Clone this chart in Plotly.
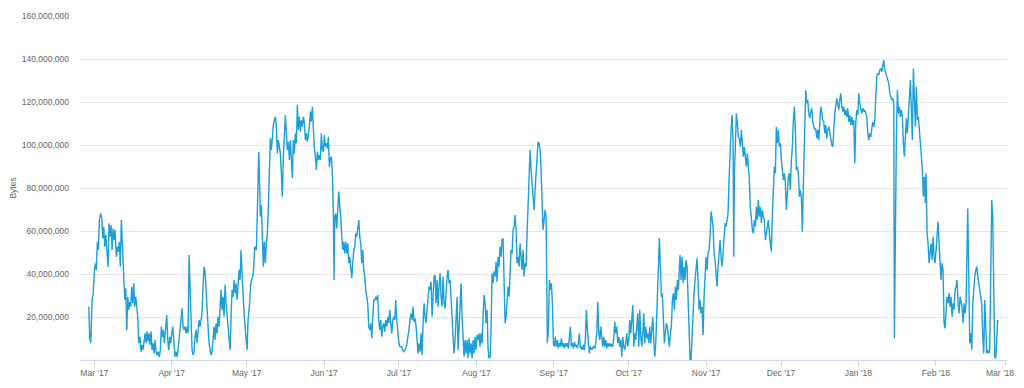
import pandas as pd
import plotly.graph_objects as go

START = "2017-03-01"

# days since START (fractional) and mempool size in millions of bytes
day_offset = [
    -2.24, -1.84, -1.44, -0.92, -0.52, -0.12, 0.16, 0.56, 0.80, 1.20,
    1.60, 2.00, 2.56, 2.96, 3.36, 3.76, 4.17, 4.57, 5.09, 5.49,
    5.89, 6.29, 6.69, 7.09, 7.49, 7.89, 8.29, 8.81, 9.21, 9.61,
    10.01, 10.41, 10.81, 11.21, 11.77, 12.18, 12.58, 12.98, 13.38, 13.78,
    14.18, 14.58, 14.98, 15.38, 15.78, 16.18, 16.58, 16.98, 17.38, 17.78,
    18.30, 18.70, 19.10, 19.50, 19.90, 20.30, 20.70, 21.10, 21.51, 21.91,
    22.31, 22.71, 23.11, 23.51, 23.91, 24.31, 24.71, 25.11, 25.51, 26.03,
    26.43, 26.83, 27.23, 27.63, 28.03, 28.60, 29.00, 29.40, 29.80, 30.20,
    30.60, 31.00, 31.40, 31.80, 32.32, 32.72, 33.12, 33.52, 33.92, 34.32,
    34.72, 35.12, 35.52, 35.92, 36.32, 36.73, 37.13, 37.53, 37.93, 38.33,
    38.73, 39.13, 39.53, 39.93, 40.33, 40.73, 41.13, 41.53, 41.93, 42.33,
    42.73, 43.13, 43.53, 43.93, 44.33, 44.74, 45.14, 45.54, 45.94, 46.34,
    46.74, 47.14, 47.54, 47.94, 48.34, 48.74, 49.14, 49.54, 49.94, 50.34,
    50.74, 51.14, 51.54, 51.94, 52.34, 52.75, 53.15, 53.55, 53.95, 54.35,
    54.75, 55.15, 55.55, 55.95, 56.35, 56.75, 57.15, 57.55, 57.95, 58.35,
    58.75, 59.15, 59.55, 59.96, 60.36, 60.76, 61.16, 61.56, 62.08, 62.64,
    63.16, 63.68, 64.24, 64.88, 65.10, 65.44, 65.84, 66.24, 66.48, 66.88,
    67.28, 67.68, 68.08, 68.48, 68.88, 69.29, 69.69, 70.09, 70.49, 70.89,
    71.29, 71.69, 72.09, 72.49, 72.89, 73.29, 73.69, 74.09, 74.49, 74.89,
    75.29, 75.69, 76.10, 76.50, 76.90, 77.30, 77.70, 78.10, 78.50, 78.90,
    79.30, 79.70, 80.10, 80.50, 80.90, 81.30, 81.70, 82.10, 82.50, 82.90,
    83.30, 83.70, 84.11, 84.51, 84.91, 85.31, 85.71, 86.11, 86.51, 86.91,
    87.31, 87.71, 88.11, 88.51, 88.91, 89.31, 89.71, 90.11, 90.51, 90.91,
    91.31, 91.71, 92.12, 92.52, 92.92, 93.32, 93.72, 94.12, 94.52, 94.92,
    95.32, 95.72, 96.00, 96.28, 96.68, 97.08, 97.48, 97.88, 98.28, 98.68,
    99.08, 99.48, 99.88, 100.28, 100.68, 101.08, 101.49, 101.89, 102.29, 102.69,
    103.09, 103.49, 103.89, 104.29, 104.69, 105.09, 105.49, 105.89, 106.29, 106.69,
    107.09, 107.49, 107.89, 108.29, 108.69, 109.09, 109.49, 109.89, 110.29, 110.69,
    111.10, 111.50, 111.90, 112.30, 112.70, 113.10, 113.50, 113.90, 114.30, 114.70,
    115.10, 115.50, 115.90, 116.30, 116.70, 117.10, 117.50, 117.90, 118.30, 118.71,
    119.11, 119.51, 119.91, 120.31, 120.71, 121.11, 121.51, 121.91, 122.31, 123.11,
    123.75, 124.43, 125.11, 125.64, 126.04, 126.43, 126.84, 127.24, 127.64, 128.04,
    128.44, 128.84, 129.24, 129.64, 130.04, 130.44, 130.84, 131.24, 131.64, 132.05,
    132.45, 132.85, 133.25, 133.65, 134.05, 134.45, 134.85, 135.25, 135.65, 136.05,
    136.45, 136.85, 137.25, 137.65, 138.05, 138.45, 138.85, 139.25, 139.65, 140.06,
    140.46, 140.86, 141.26, 141.66, 142.06, 142.46, 142.86, 143.26, 143.66, 144.06,
    144.46, 144.86, 145.26, 145.66, 146.06, 146.46, 146.86, 147.26, 147.66, 148.07,
    148.47, 148.87, 149.27, 149.67, 150.07, 150.47, 150.87, 151.27, 151.67, 152.07,
    152.47, 152.87, 153.27, 153.67, 154.07, 154.47, 154.87, 155.27, 155.67, 156.08,
    156.48, 156.88, 157.28, 157.68, 158.08, 158.48, 158.88, 159.28, 159.68, 160.08,
    160.48, 160.88, 161.28, 161.68, 162.08, 162.48, 162.88, 163.28, 163.68, 164.09,
    164.49, 164.89, 165.29, 165.69, 166.09, 166.49, 166.89, 167.29, 167.69, 168.09,
    168.49, 168.89, 169.29, 169.69, 170.09, 170.49, 170.89, 171.29, 171.69, 172.10,
    172.50, 172.90, 173.30, 173.70, 174.10, 174.50, 174.90, 175.30, 175.70, 176.10,
    176.50, 176.90, 177.30, 177.70, 178.10, 178.50, 178.90, 179.30, 179.70, 180.11,
    180.51, 180.91, 181.19, 181.43, 181.83, 182.23, 182.63, 183.03, 183.43, 183.83,
    184.23, 184.63, 185.03, 185.43, 185.83, 186.23, 186.63, 187.03, 187.43, 187.83,
    188.23, 188.63, 189.04, 189.44, 189.84, 190.24, 190.64, 191.04, 191.44, 191.84,
    192.24, 192.64, 193.04, 193.44, 193.84, 194.24, 194.64, 195.04, 195.44, 195.84,
    196.24, 196.64, 197.04, 197.44, 197.84, 198.24, 198.52, 199.20, 199.84, 200.53,
    201.21, 201.61, 202.01, 202.41, 202.81, 203.21, 203.61, 204.01, 204.41, 204.81,
    205.21, 205.61, 206.01, 206.41, 206.81, 207.21, 207.62, 208.02, 208.42, 208.82,
    209.22, 209.62, 210.02, 210.42, 210.82, 211.22, 211.62, 212.02, 212.42, 212.82,
    213.22, 213.62, 214.02, 214.42, 214.82, 215.22, 215.63, 216.03, 216.43, 216.83,
    217.23, 217.63, 218.03, 218.43, 218.83, 219.23, 219.63, 220.03, 220.43, 220.83,
    221.23, 221.63, 222.03, 222.43, 222.83, 223.24, 223.64, 224.04, 224.44, 224.84,
    225.24, 225.64, 226.04, 226.28, 226.68, 227.08, 227.48, 227.88, 228.28, 228.68,
    229.08, 229.48, 229.88, 230.28, 230.68, 231.08, 231.48, 231.88, 232.28, 232.68,
    233.09, 233.49, 233.89, 234.29, 234.57, 234.97, 235.37, 235.77, 236.17, 236.57,
    236.97, 237.37, 237.77, 238.17, 238.57, 238.97, 239.37, 239.77, 240.17, 240.57,
    240.97, 241.37, 241.77, 242.17, 242.58, 242.98, 243.38, 243.78, 244.18, 244.58,
    244.98, 245.38, 245.78, 246.18, 246.58, 246.98, 247.38, 247.78, 248.18, 248.58,
    248.98, 249.38, 249.78, 250.18, 250.59, 250.99, 251.39, 251.79, 252.19, 252.59,
    252.99, 253.39, 253.79, 254.19, 254.59, 254.99, 255.39, 255.79, 256.07, 256.31,
    256.71, 257.11, 257.51, 257.91, 258.31, 258.72, 259.12, 259.52, 259.92, 260.32,
    260.72, 261.12, 261.52, 261.92, 262.32, 262.72, 263.12, 263.52, 263.92, 264.32,
    264.72, 265.12, 265.52, 265.92, 266.32, 266.73, 267.13, 267.53, 267.93, 268.33,
    268.73, 269.13, 269.53, 269.93, 270.33, 270.73, 271.13, 271.53, 271.93, 272.33,
    272.73, 273.13, 273.53, 273.93, 274.33, 274.73, 275.14, 275.54, 275.94, 276.34,
    276.74, 277.14, 277.54, 277.94, 278.34, 278.74, 279.14, 279.54, 279.94, 280.34,
    280.74, 281.14, 281.54, 281.94, 282.34, 282.62, 283.15, 283.55, 283.95, 284.35,
    284.91, 285.31, 285.71, 286.11, 286.51, 286.91, 287.31, 287.71, 288.11, 288.52,
    288.92, 289.32, 289.72, 290.12, 290.52, 290.92, 291.32, 291.72, 292.12, 292.52,
    292.92, 293.32, 293.72, 294.12, 294.52, 294.92, 295.33, 295.73, 296.13, 296.53,
    296.93, 297.33, 297.73, 298.13, 298.53, 298.93, 299.33, 299.73, 300.13, 300.53,
    300.93, 301.33, 301.73, 302.14, 302.54, 302.94, 303.34, 303.74, 304.14, 304.54,
    304.94, 305.34, 305.74, 306.14, 306.54, 306.94, 307.34, 307.74, 308.14, 308.54,
    308.95, 309.35, 309.75, 310.15, 310.55, 310.95, 311.35, 311.75, 312.15, 312.55,
    312.95, 313.35, 313.75, 314.15, 314.55, 314.95, 315.35, 315.76, 316.16, 316.56,
    316.96, 317.36, 317.76, 318.16, 318.56, 318.96, 319.36, 319.76, 320.16, 320.40,
    320.80, 321.20, 321.60, 322.00, 322.40, 322.80, 323.20, 323.60, 324.00, 324.40,
    324.80, 325.20, 325.60, 326.01, 326.41, 326.81, 327.21, 327.61, 328.01, 328.41,
    328.81, 329.21, 329.61, 330.01, 330.41, 330.81, 331.21, 331.61, 332.01, 332.41,
    332.81, 333.09, 333.49, 333.89, 334.29, 334.69, 335.09, 335.49, 335.89, 336.29,
    336.69, 337.09, 337.49, 337.89, 338.29, 338.69, 339.09, 339.49, 339.89, 340.29,
    340.70, 341.10, 341.50, 341.90, 342.30, 342.70, 343.10, 343.50, 343.90, 344.30,
    344.70, 345.10, 345.50, 345.90, 346.30, 346.70, 347.10, 347.50, 347.90, 348.30,
    348.71, 349.11, 349.79, 350.19, 350.59, 350.99, 351.39, 351.79, 352.19, 352.59,
    352.99, 353.39, 353.79, 354.19, 354.59, 354.99, 355.39, 355.79, 356.19, 356.59,
    356.99, 357.39, 357.79, 358.19, 358.59, 358.99, 359.39, 359.79, 360.19, 360.59,
    360.99, 361.39, 361.79,
]

mempool_mb = [
    24.8, 10.1, 8.0, 27.9, 30.2, 37.2, 43.4, 45.0, 41.9, 55.0,
    51.2, 65.1, 68.2, 65.9, 56.6, 62.0, 52.7, 58.1, 51.2, 43.4,
    63.6, 57.3, 62.8, 51.2, 61.2, 55.8, 60.5, 48.0, 52.7, 50.4,
    55.0, 43.4, 65.1, 51.2, 32.6, 27.9, 33.3, 14.0, 29.4, 23.3,
    27.1, 24.8, 34.1, 26.4, 35.7, 24.8, 29.4, 23.3, 20.1, 7.8,
    10.8, 3.9, 7.0, 4.7, 10.8, 12.4, 7.8, 13.2, 8.5, 12.4,
    7.0, 13.2, 4.7, 7.8, 3.1, 9.3, 3.9, 2.3, 3.9, 1.5,
    4.7, 15.5, 10.8, 14.0, 7.8, 15.5, 20.9, 9.3, 4.7, 10.8,
    7.8, 12.4, 15.5, 9.3, 1.5, 3.9, 1.5, 4.7, 9.3, 14.0,
    18.6, 24.0, 15.5, 14.0, 15.5, 12.4, 15.5, 12.4, 48.8, 31.0,
    21.7, 4.7, 2.3, 3.9, 10.8, 14.0, 7.8, 15.5, 18.6, 15.5,
    20.1, 21.7, 34.1, 43.4, 41.1, 34.1, 23.3, 15.5, 7.8, 4.7,
    2.3, 3.9, 10.8, 15.5, 9.3, 17.1, 12.4, 20.1, 15.5, 23.3,
    32.6, 23.3, 29.4, 20.1, 34.9, 26.4, 20.1, 15.5, 10.8, 4.7,
    20.1, 32.6, 29.4, 37.2, 31.0, 35.7, 27.9, 35.7, 41.9, 37.2,
    51.2, 40.3, 27.9, 21.7, 15.5, 9.3, 4.7, 18.6, 24.8, 35.7,
    38.8, 40.3, 52.7, 51.2, 60.5, 79.1, 96.9, 79.1, 66.7, 72.1,
    60.5, 43.4, 55.0, 45.0, 54.3, 58.9, 71.3, 85.2, 103.1, 97.7,
    105.4, 109.3, 111.6, 113.1, 108.5, 96.1, 102.3, 98.4, 96.1, 86.8,
    75.9, 94.5, 103.8, 113.9, 105.4, 97.7, 101.5, 93.0, 102.3, 91.5,
    84.5, 102.3, 96.1, 105.4, 100.8, 118.6, 107.0, 113.1, 106.2, 111.6,
    108.5, 113.1, 110.1, 102.3, 105.4, 101.5, 105.4, 108.5, 115.5, 110.8,
    117.8, 105.4, 98.4, 94.5, 88.4, 96.9, 93.0, 95.3, 93.0, 105.4,
    97.7, 96.9, 104.6, 99.2, 100.8, 98.4, 103.8, 89.9, 93.8, 94.5,
    86.8, 68.2, 37.2, 66.7, 68.2, 61.2, 71.3, 78.3, 71.3, 66.7,
    57.3, 51.2, 55.0, 49.6, 55.0, 49.6, 54.3, 45.0, 48.0, 44.2,
    38.0, 45.0, 51.2, 52.7, 58.9, 57.3, 60.5, 65.1, 57.3, 54.3,
    45.0, 51.2, 41.9, 38.8, 32.6, 29.4, 26.4, 15.5, 14.0, 17.1,
    10.1, 20.1, 27.9, 27.9, 29.4, 27.9, 30.2, 18.6, 14.0, 18.6,
    10.8, 15.5, 17.1, 13.2, 18.6, 15.5, 20.1, 17.1, 23.3, 17.1,
    12.4, 18.6, 20.1, 18.6, 27.9, 18.6, 10.8, 8.5, 6.2, 6.2,
    3.9, 4.7, 7.0, 10.8, 14.7, 18.6, 21.7, 18.6, 24.8, 17.8,
    19.4, 15.5, 9.3, 3.1, 7.8, 3.9, 12.4, 2.3, 17.1, 26.4,
    20.1, 17.1, 23.3, 27.9, 34.1, 32.6, 36.4, 20.1, 32.6, 38.8,
    39.5, 26.4, 37.2, 24.8, 34.1, 40.3, 29.4, 24.8, 38.8, 26.4,
    24.0, 32.6, 38.8, 41.9, 35.7, 37.2, 31.0, 20.1, 10.8, 3.1,
    9.3, 20.1, 29.4, 4.7, 14.0, 29.4, 35.7, 20.1, 7.8, 1.5,
    9.3, 3.1, 9.3, 0.8, 10.1, 3.1, 7.8, 0.8, 9.3, 3.1,
    10.8, 4.7, 11.6, 9.3, 12.4, 6.2, 12.4, 7.8, 20.1, 30.2,
    26.4, 17.1, 23.3, 4.7, 0.8, 1.5, 14.0, 40.3, 35.7, 41.1,
    38.8, 45.7, 36.4, 48.0, 43.4, 52.7, 48.0, 55.8, 56.6, 37.2,
    17.1, 20.1, 27.9, 34.1, 29.4, 41.9, 51.2, 49.6, 60.5, 62.0,
    67.4, 60.5, 45.0, 48.0, 43.4, 54.3, 48.0, 41.9, 51.2, 38.8,
    45.0, 43.4, 58.9, 75.9, 88.4, 97.7, 88.4, 82.2, 75.9, 69.8,
    79.1, 88.4, 97.7, 101.5, 100.8, 97.7, 88.4, 69.8, 60.5, 65.1,
    69.8, 66.7, 37.2, 7.8, 14.0, 37.2, 32.6, 35.7, 26.4, 7.8,
    6.2, 10.8, 6.2, 9.3, 5.4, 7.8, 6.2, 10.1, 6.2, 7.8,
    5.4, 7.8, 6.2, 7.8, 5.4, 9.3, 15.5, 6.2, 7.8, 5.4,
    8.5, 6.2, 7.0, 5.4, 7.8, 12.4, 5.4, 6.2, 4.7, 7.0,
    4.7, 9.3, 23.3, 14.0, 7.8, 3.1, 6.2, 4.7, 6.2, 5.4,
    12.4, 27.1, 12.4, 9.3, 15.5, 10.8, 6.2, 10.8, 6.2, 9.3,
    5.4, 7.8, 6.2, 7.8, 6.2, 7.0, 6.2, 10.8, 17.8, 12.4,
    15.5, 7.8, 10.8, 6.2, 9.3, 1.5, 10.8, 6.2, 4.7, 7.8,
    12.4, 6.2, 9.3, 18.6, 12.4, 18.6, 25.6, 6.2, 12.4, 9.3,
    15.5, 21.7, 6.2, 23.3, 10.8, 6.2, 12.4, 21.7, 7.8, 15.5,
    10.1, 12.4, 7.8, 15.5, 7.8, 14.0, 20.1, 9.3, 1.5, 7.8,
    21.7, 37.2, 48.0, 56.6, 43.4, 29.4, 31.0, 21.7, 7.8, 12.4,
    17.1, 15.5, 9.3, 6.2, 12.4, 15.5, 27.9, 31.0, 23.3, 34.1,
    27.9, 37.2, 32.6, 43.4, 48.8, 37.2, 48.0, 35.7, 43.4, 37.2,
    46.5, 43.4, 29.4, 12.4, 0.3, 0.3, 12.4, 21.7, 31.0, 37.2,
    41.9, 47.3, 37.2, 23.3, 27.9, 21.7, 24.8, 11.6, 29.4, 43.4,
    48.0, 41.9, 49.6, 51.2, 57.3, 69.0, 65.1, 62.0, 49.6, 46.5,
    40.3, 34.1, 43.4, 48.0, 55.8, 48.0, 43.4, 49.6, 55.8, 63.6,
    62.0, 65.1, 68.2, 83.7, 100.8, 107.0, 113.9, 102.3, 48.0, 86.8,
    99.2, 114.7, 110.1, 103.8, 103.1, 99.2, 107.0, 99.2, 94.5, 99.2,
    93.0, 89.9, 96.1, 91.5, 83.7, 71.3, 65.1, 60.5, 58.9, 65.1,
    62.0, 71.3, 65.1, 74.4, 66.7, 71.3, 63.6, 69.8, 66.7, 65.1,
    55.8, 58.9, 62.0, 65.1, 58.9, 55.8, 50.4, 68.2, 85.2, 89.9,
    86.8, 108.5, 100.8, 107.0, 99.2, 100.8, 93.0, 88.4, 83.7, 86.8,
    82.2, 69.8, 79.1, 85.2, 86.8, 79.1, 93.0, 99.2, 111.6, 117.8,
    107.0, 88.4, 89.9, 86.8, 75.9, 79.1, 75.9, 59.7, 82.2, 105.4,
    125.6, 119.4, 120.9, 114.7, 112.4, 115.5, 117.1, 110.8, 108.5, 107.0,
    107.7, 103.1, 107.0, 102.3, 110.1, 117.8, 115.5, 111.6, 110.8, 105.4,
    109.3, 103.1, 107.0, 108.5, 106.2, 101.5, 100.0, 99.2, 108.5, 114.7,
    117.8, 121.7, 119.4, 116.3, 120.9, 124.0, 117.8, 115.5, 117.8, 113.9,
    116.3, 113.1, 117.1, 110.8, 113.9, 109.3, 113.1, 109.3, 111.6, 91.5,
    110.1, 116.3, 113.9, 124.0, 119.4, 117.1, 114.7, 117.1, 115.5, 116.3,
    114.7, 113.1, 105.4, 102.3, 105.4, 103.8, 107.7, 110.8, 108.5, 110.8,
    122.4, 131.7, 133.3, 132.6, 134.9, 135.6, 134.1, 137.2, 139.5, 134.9,
    133.3, 131.0, 130.2, 128.7, 124.0, 122.4, 120.9, 121.7, 119.4, 10.1,
    74.4, 103.8, 125.6, 114.7, 117.8, 113.1, 116.3, 113.1, 100.8, 94.5,
    103.8, 112.4, 105.4, 116.3, 127.1, 130.2, 116.3, 102.3, 135.6, 125.6,
    108.5, 127.1, 111.6, 113.1, 107.0, 100.8, 97.7, 88.4, 75.9, 85.2,
    72.9, 86.8, 58.9, 54.3, 45.0, 51.2, 54.3, 46.5, 57.3, 48.0,
    45.0, 51.2, 57.3, 64.3, 54.3, 43.4, 37.2, 45.0, 41.9, 17.1,
    14.7, 23.3, 29.4, 26.4, 31.0, 24.8, 29.4, 20.1, 26.4, 23.3,
    32.6, 34.1, 37.2, 26.4, 21.7, 29.4, 26.4, 24.8, 17.1, 26.4,
    21.7, 26.4, 70.5, 35.7, 7.8, 12.4, 4.7, 26.4, 35.7, 38.8,
    41.9, 43.4, 38.8, 35.7, 32.6, 27.9, 26.4, 10.8, 3.1, 27.9,
    17.1, 3.1, 4.7, 3.1, 4.7, 38.8, 74.4, 66.7, 32.6, 1.5,
    0.8, 10.1, 18.6,
]

x_tick_dates = [
    "2017-03-01", "2017-04-01", "2017-05-01", "2017-06-01", "2017-07-01",
    "2017-08-01", "2017-09-01", "2017-10-01", "2017-11-01", "2017-12-01",
    "2018-01-01", "2018-02-01", "2018-03-01",
]
x_tick_labels = [
    "Mar '17", "Apr '17", "May '17", "Jun '17", "Jul '17", "Aug '17",
    "Sep '17", "Oct '17", "Nov '17", "Dec '17", "Jan '18", "Feb '18", "Mar '18",
]
y_tick_values = [20e6, 40e6, 60e6, 80e6, 100e6, 120e6, 140e6, 160e6]
x_range = ["2017-02-23 06:00", "2018-03-01 12:00"]
y_range = [0, 160e6]

assert len(day_offset) == len(mempool_mb)

dates = pd.Timestamp(START) + pd.to_timedelta(day_offset, unit="D")
values = [v * 1e6 for v in mempool_mb]

FONT = "Liberation Sans, Arial, sans-serif"
LABEL = "#666666"

fig = go.Figure(
    go.Scatter(
        x=dates,
        y=values,
        mode="lines",
        line=dict(color="#1d9fd7", width=1.4),
        showlegend=False,
    )
)

# the last month label is pulled inside the chart edge (as the original does)
axis_labels = x_tick_labels[:-1] + [""]

# the page body adds an 8px offset on the left and top
fig.update_layout(
    width=1016,
    height=380,
    margin=dict(l=72, r=17, t=8, b=28),
    paper_bgcolor="white",
    plot_bgcolor="white",
    font=dict(family=FONT, size=9, color=LABEL),
    xaxis=dict(
        type="date",
        range=x_range,
        tickvals=x_tick_dates,
        ticktext=axis_labels,
        ticks="outside",
        ticklen=5,
        tickcolor="#ccd6eb",
        showline=True,
        linecolor="#ccd6eb",
        linewidth=1,
        showgrid=False,
        zeroline=False,
        tickfont=dict(family=FONT, size=8.5, color=LABEL),
        automargin=False,
    ),
    yaxis=dict(
        range=y_range,
        tickvals=y_tick_values,
        tickformat=",d",
        showgrid=True,
        gridcolor="#e6e6e6",
        gridwidth=1,
        zeroline=False,
        showline=False,
        ticks="",
        ticklabelstandoff=10,
        tickfont=dict(family=FONT, size=8.5, color=LABEL),
        title=dict(text="Bytes", font=dict(family=FONT, size=8.5, color=LABEL), standoff=6),
        automargin=False,
    ),
)

fig.add_annotation(
    text=x_tick_labels[-1],
    xref="paper", yref="paper",
    x=1, y=0,
    xanchor="right", yanchor="top",
    xshift=9, yshift=-6,
    showarrow=False,
    font=dict(family=FONT, size=8.5, color=LABEL),
)

fig.write_html("out.html")
